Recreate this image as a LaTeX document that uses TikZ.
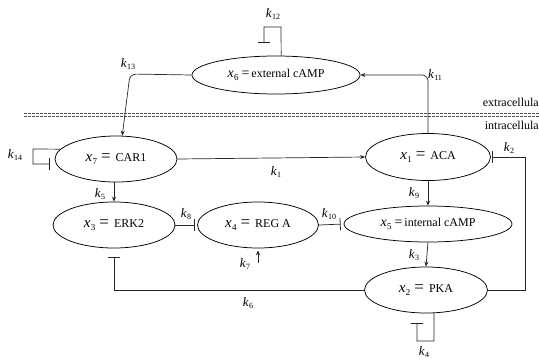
\documentclass[tikz,border=0pt]{standalone}
\usepackage{fontspec}
\setmainfont{Liberation Serif}
\usetikzlibrary{shapes.geometric,arrows.meta}
\newcommand{\kk}[1]{{\fontsize{13}{13}\selectfont\textit{k}\kern0.3pt\raisebox{-0.35ex}{\fontsize{8}{8}\selectfont #1}}}
\newcommand{\xe}[2]{{\fontsize{15}{15}\selectfont\textit{x}}\kern0.3pt\raisebox{-0.5ex}{\fontsize{9}{9}\selectfont #1}\hspace{4pt}{\fontsize{17}{17}\selectfont=}\hspace{5pt}{\fontsize{12}{12}\selectfont #2}}
\newcommand{\xs}[2]{{\fontsize{14}{14}\selectfont\textit{x}}\kern0.3pt\raisebox{-0.5ex}{\fontsize{9}{9}\selectfont #1}\hspace{3pt}{\fontsize{14}{14}\selectfont=}\hspace{2pt}{\fontsize{12}{12}\selectfont #2}}
\tikzset{
  ell/.style={ellipse, draw, line width=0.75pt, inner sep=0pt, minimum width=#1},
  conn/.style={line width=0.7pt, draw=black!85},
  act/.style={conn, -{Stealth[length=5pt,width=4pt]}},
  inh/.style={conn, -{Bar[width=12pt,line width=0.8pt]}},
  lab/.style={inner sep=0pt},
  sep/.style={line width=0.9pt, draw=black!70, dash pattern=on 2.6pt off 1.4pt}
}
\begin{document}
\begin{tikzpicture}[x=1pt,y=-1pt]
\useasboundingbox (0,0) rectangle (539,360);
% separator
\draw[sep] (24,113.2) -- (539,113.2);
\draw[sep] (24,116.2) -- (539,116.2);
\node[lab, anchor=east] (ext) at (539,102) {\fontsize{12}{12}\selectfont extracellula};
\node[lab, anchor=east] (int) at (539,125) {\fontsize{12}{12}\selectfont intracellula};
% nodes
\node[ell=168pt, minimum height=38pt] (x6) at (276,75) {\xs{6}{external cAMP}};
\node[ell=122pt, minimum height=46pt] (x7) at (116,159) {\xe{7}{CAR1}};
\node[ell=125pt, minimum height=47pt] (x1) at (428,157) {\xe{1}{ACA}};
\node[ell=122pt, minimum height=46pt] (x3) at (114,225) {\xe{3}{ERK2}};
\node[ell=121pt, minimum height=46pt] (x4) at (258,225) {\xe{4}{REG A}};
\node[ell=168pt, minimum height=36pt] (x5) at (428,224) {\xs{5}{internal cAMP}};
\node[ell=123pt, minimum height=46pt] (x2) at (426,290) {\xe{2}{PKA}};
% free ends
\coordinate (c12a) at (281,27);
\coordinate (c12b) at (264,27);
\coordinate (c12e) at (264,43);
\coordinate (c13) at (130,74);
\coordinate (c14a) at (33,149);
\coordinate (c14b) at (33,164);
\coordinate (c14e) at (50,164);
\coordinate (c2) at (525,290);
\coordinate (c6e) at (114,257);
\coordinate (c7s) at (258,263);
\coordinate (c4a) at (434,341);
\coordinate (c4b) at (417,341);
\coordinate (c4e) at (417,323);
% connectors
\draw[act, rounded corners=6pt] (x1.north) |- (x6.east);
\draw[act, rounded corners=6pt] (x6.west) -- (c13) -- (x7.75);
\draw[inh] (x6.75) -- (c12a) -- (c12b) -- (c12e);
\draw[inh] (x7.170) -- (c14a) -- (c14b) -- (c14e);
\draw[act] (x7.east) -- (x1.west);
\draw[inh, shorten >=1.5pt] (x2.east) -- (c2) |- (x1.east);
\draw[act] (x3.north |- x7.south) -- (x3.north);
\draw[act] (x1.south) -- (x5.north);
\draw[act] (x5.south) -- (x2.north);
\draw[inh, shorten >=2.5pt] (x3.east) -- (x4.west);
\draw[inh, shorten >=3pt] (x4.east) -- (x5.west);
\draw[act, shorten >=2pt] (c7s) -- (x4.south);
\draw[inh] (x2.west) -| (c6e);
\draw[inh] (x2.-71) -- (c4a) -- (c4b) -- (c4e);
% labels
\node[lab] (l12) at (273,14) {\kk{12}};
\node[lab] (l11) at (435,75) {\kk{11}};
\node[lab] (l13) at (128,64) {\kk{13}};
\node[lab] (l14) at (15,155) {\kk{14}};
\node[lab] (l2) at (509,148) {\kk{2}};
\node[lab] (l1) at (276,172) {\kk{1}};
\node[lab] (l9) at (414,193) {\kk{9}};
\node[lab] (l3) at (414,255) {\kk{3}};
\node[lab] (l5) at (100,194) {\kk{5}};
\node[lab] (l8) at (186,214) {\kk{8}};
\node[lab] (l10) at (329,214) {\kk{10}};
\node[lab] (l7) at (245,264) {\kk{7}};
\node[lab] (l6) at (248,303) {\kk{6}};
\node[lab] (l4) at (424,352) {\kk{4}};
\end{tikzpicture}
\end{document}
